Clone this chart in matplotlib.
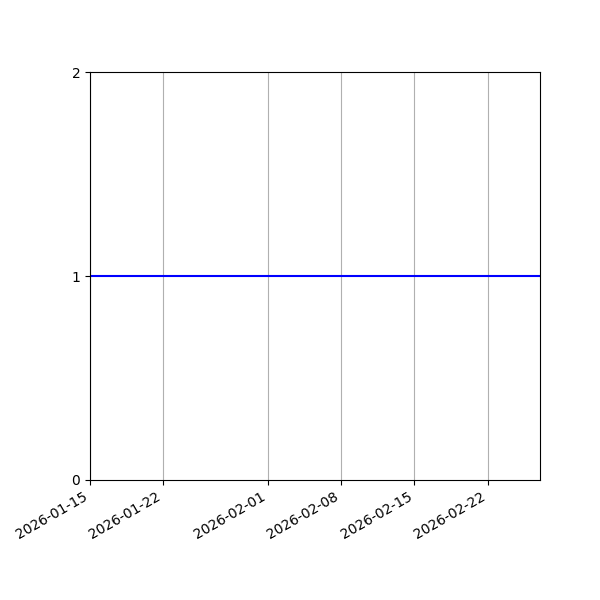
import matplotlib
matplotlib.use("Agg")
import matplotlib.pyplot as plt
import pandas as pd

dates = ["2026-01-15", "2026-02-27"]
values = [1, 1]

fig, ax = plt.subplots(figsize=(6, 6), dpi=100)
ax.plot(pd.to_datetime(dates), values, color="blue")
ax.set_xlim(pd.to_datetime(dates[0]), pd.to_datetime(dates[-1]))
ax.set_ylim(0, 2)
ax.set_yticks([0, 1, 2])
ax.grid(True, axis="x")
fig.autofmt_xdate()
fig.subplots_adjust(left=0.15, right=0.9, top=0.88, bottom=0.2)

plt.savefig("out.png", dpi=100)
